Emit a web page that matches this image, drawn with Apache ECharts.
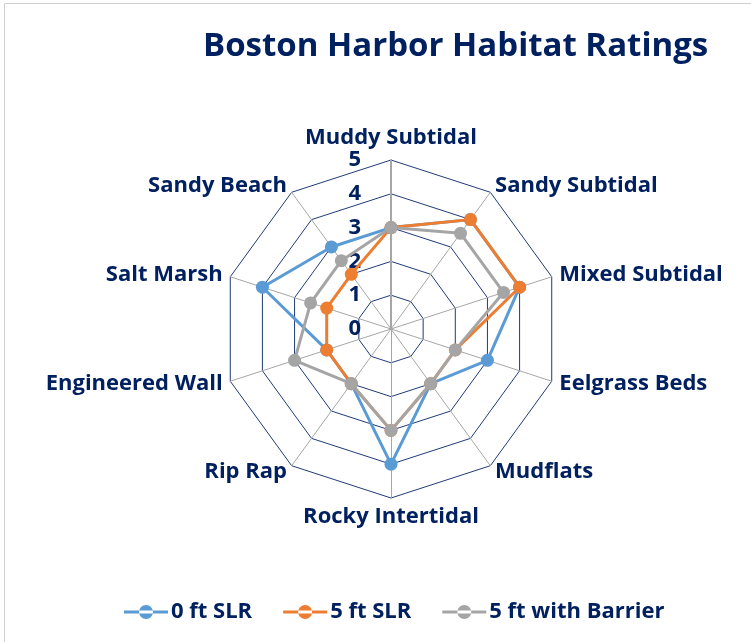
<!DOCTYPE html>
<html>
<head>
<meta charset="utf-8">
<script src="https://cdn.jsdelivr.net/npm/echarts@6/dist/echarts.min.js"></script>
<style>
  html, body { margin: 0; padding: 0; background: #fff; }
  #container { width: 751px; height: 642px; }
</style>
</head>
<body>
<div id="container"></div>
<script>
var dom = document.getElementById('container');
var myChart = echarts.init(dom, null, { renderer: 'canvas' });

var navy = '#002060';
var fontFam = '"Open Sans", "Noto Sans", sans-serif';

// habitats, clockwise from the top
var habitats = ['Muddy Subtidal', 'Sandy Subtidal', 'Mixed Subtidal', 'Eelgrass Beds', 'Mudflats',
    'Rocky Intertidal', 'Rip Rap', 'Engineered Wall', 'Salt Marsh', 'Sandy Beach'];
var seriesNames = ['0 ft SLR', '5 ft SLR', '5 ft with Barrier'];
var slr0 = [3, 4, 4, 3, 2, 4, 2, 2, 4, 3];
var slr5 = [3, 4, 4, 2, 2, 3, 2, 2, 2, 2];
var barrier5 = [3, 3.5, 3.5, 2, 2, 3, 2, 3, 2.5, 2.5];
var colors = ['#5B9BD5', '#ED7D31', '#A5A5A5'];
var ratingMax = 5;

// echarts radar runs counter-clockwise, so keep the first spoke and flip the rest
function clockwise(arr) {
    return [arr[0]].concat(arr.slice(1).reverse());
}

var indicators = clockwise(habitats).map(function (h, i) {
    var ind = { name: h, min: 0, max: ratingMax };
    if (i == 0) {
        // only the first spoke carries the value labels
        ind.axisLabel = {
            show: true,
            align: 'right',
            verticalAlign: 'middle',
            padding: [0, 22, 0, 0],
            color: navy,
            fontFamily: fontFam,
            fontWeight: 'bold',
            fontSize: 22
        };
        ind.axisLine = { lineStyle: { color: '#A6A6A6', width: 2 } };
    }
    return ind;
});

// legend icon: line with a dot on it
var legendIcon = 'path://M0,5.5H44V8.5H0Z M15,7A7,7,0,1,0,29,7A7,7,0,1,0,15,7Z';

var seriesData = [slr0, slr5, barrier5].map(function (vals, i) {
    return {
        name: seriesNames[i],
        value: clockwise(vals),
        symbol: 'circle',
        symbolSize: 13,
        lineStyle: { color: colors[i], width: 3 },
        itemStyle: { color: colors[i] }
    };
});

option = {
    animation: false,
    color: colors,
    title: {
        text: 'Boston Harbor Habitat Ratings',
        left: 198,
        top: 25,
        textStyle: { color: navy, fontFamily: fontFam, fontWeight: 'bold', fontSize: 33 }
    },
    legend: {
        data: seriesNames.map(function (n) { return { name: n, icon: legendIcon }; }),
        left: 119,
        top: 596,
        itemWidth: 44,
        itemHeight: 14,
        itemGap: 31,
        textStyle: { color: navy, fontFamily: fontFam, fontWeight: 'bold', fontSize: 22, padding: [0, 0, 0, -2] }
    },
    radar: {
        center: [391, 329],
        radius: 169,
        startAngle: 90,
        shape: 'polygon',
        splitNumber: 5,
        indicator: indicators,
        axisName: { color: navy, fontFamily: fontFam, fontWeight: 'bold', fontSize: 22 },
        nameGap: 8,
        axisLine: { lineStyle: { color: '#A6A6A6', width: 1 } },
        splitLine: { lineStyle: { color: '#1F3A78', width: 1 } },
        splitArea: { show: false },
        axisTick: { show: false },
        axisLabel: { show: false }
    },
    graphic: [{
        type: 'rect',
        shape: { x: 4.5, y: 3.5, width: 800, height: 700 },
        style: { fill: 'none', stroke: '#D0D0D0', lineWidth: 1 },
        silent: true
    }],
    series: [{
        type: 'radar',
        data: seriesData
    }]
};

myChart.setOption(option);
</script>
</body>
</html>
